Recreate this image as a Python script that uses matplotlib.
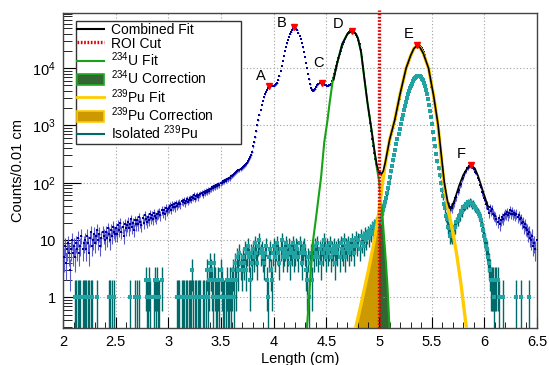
import numpy as np
import matplotlib
matplotlib.use("Agg")
import matplotlib.pyplot as plt
from matplotlib.lines import Line2D
from matplotlib.patches import Patch
from matplotlib.ticker import MultipleLocator, LogLocator, NullFormatter

plt.rcParams['font.family'] = ['Liberation Sans', 'DejaVu Sans']
plt.rcParams['mathtext.default'] = 'regular'

# histogram binning (cm)
bin_lo = 2.0
bin_w = 0.01

# all counts, 0.01 cm bins from 2.00 to 6.50
blue_counts = [
    5, 8, 4, 7, 9, 6, 3, 7, 10, 6,
    8, 5, 9, 7, 11, 6, 8, 12, 7, 9,
    10, 7, 12, 9, 6, 11, 14, 8, 10, 13,
    9, 12, 15, 10, 13, 8, 11, 14, 12, 10,
    14, 11, 16, 13, 10, 15, 12, 17, 14, 13,
    16, 13, 18, 15, 20, 14, 17, 12, 19, 16,
    18, 21, 16, 19, 23, 17, 20, 15, 22, 19,
    22, 19, 25, 21, 18, 24, 20, 27, 23, 21,
    25, 22, 28, 24, 27, 23, 30, 26, 24, 28,
    29, 31, 27, 33, 30, 34, 28, 36, 32, 35,
    36, 39, 34, 41, 38, 42, 37, 44, 40, 43,
    45, 42, 48, 46, 50, 44, 49, 52, 47, 51,
    54, 51, 57, 55, 60, 53, 58, 62, 56, 61,
    64, 67, 62, 70, 66, 72, 69, 75, 71, 77,
    79, 83, 80, 87, 84, 90, 88, 94, 92, 98,
    101, 106, 104, 112, 109, 117, 115, 122, 120, 129,
    133, 138, 142, 148, 153, 158, 164, 170, 176, 181,
    188, 195, 203, 212, 224, 238, 255, 280, 310, 350,
    430, 520, 640, 800, 1000, 1250, 1550, 1900, 2300, 2700,
    3100, 3500, 3900, 4200, 4500, 4750, 4900, 4950, 4950, 4900,
    4900, 5000, 5200, 5600, 6300, 7400, 9000, 11000, 13500, 16500,
    20000, 23500, 27000, 31000, 35000, 39000, 43000, 47000, 50000, 51500,
    51000, 49000, 46000, 42000, 37000, 32000, 27500, 23000, 19000, 15500,
    12500, 10000, 8000, 6400, 5200, 4500, 4100, 4000, 4100, 4400,
    4700, 5000, 5300, 5500, 5600, 5600, 5500, 5300, 5100, 5000,
    4900, 4900, 5000, 5100, 5400, 5900, 6700, 7800, 9200, 10800,
    12800, 15000, 17500, 20000, 23000, 26000, 29000, 32000, 35000, 38000,
    40500, 42500, 44000, 45000, 45200, 44500, 43000, 41000, 38500, 35500,
    31600, 26500, 21000, 15500, 11000, 7900, 5750, 4200, 3000, 2100,
    1550, 1120, 810, 590, 440, 330, 260, 210, 175, 155,
    150, 142, 140, 150, 170, 205, 250, 310, 380, 470,
    600, 700, 800, 920, 1080, 1300, 1580, 1950, 2450, 2950,
    3700, 4500, 5500, 6600, 7900, 9300, 10800, 12500, 14200, 16000,
    17500, 19200, 20800, 22200, 23500, 24400, 25000, 25100, 24700, 23900,
    22800, 21000, 19000, 16800, 14500, 12200, 10000, 8000, 6200, 4700,
    4200, 3300, 2500, 1900, 1450, 1100, 830, 590, 400, 270,
    185, 118, 88, 60, 52, 40, 39, 33, 38, 36,
    42, 44, 54, 56, 70, 75, 92, 95, 115, 122,
    136, 155, 160, 182, 180, 198, 202, 194, 192, 178,
    175, 155, 148, 122, 112, 90, 83, 68, 65, 55,
    50, 42, 41, 35, 30, 37, 32, 35, 29, 27,
    26, 23, 21, 24, 19, 22, 25, 23, 27, 29,
    28, 31, 27, 30, 33, 29, 32, 28, 30, 27,
    29, 25, 27, 23, 24, 20, 21, 17, 19, 16,
    15, 13, 14, 11, 10, 12, 8, 9, 7, 10,
]

# isolated 239Pu counts, same bins
pu_counts = [
    0, 0, 0, 0, 0, 0, 0, 0, 0, 0,
    0, 1, 1, 0, 1, 1, 1, 0, 1, 1,
    1, 1, 0, 1, 1, 0, 1, 1, 0, 0,
    0, 0, 1, 0, 0, 0, 0, 0, 0, 0,
    0, 0, 0, 1, 1, 0, 1, 0, 1, 0,
    0, 0, 0, 0, 0, 0, 0, 0, 0, 0,
    0, 0, 0, 1, 0, 0, 0, 0, 1, 0,
    1, 0, 1, 0, 0, 0, 0, 0, 2, 1,
    1, 2, 1, 0, 0, 0, 1, 2, 1, 2,
    1, 1, 0, 2, 0, 0, 0, 0, 0, 0,
    0, 0, 0, 0, 0, 0, 0, 0, 1, 1,
    1, 0, 1, 1, 1, 0, 1, 1, 0, 1,
    1, 1, 3, 1, 0, 1, 1, 0, 1, 1,
    1, 0, 1, 1, 0, 1, 3, 1, 2, 4,
    3, 2, 1, 4, 2, 1, 1, 2, 1, 3,
    2, 1, 1, 0, 1, 2, 1, 1, 2, 1,
    2, 3, 1, 4, 2, 5, 3, 6, 4, 3,
    5, 4, 7, 3, 6, 8, 5, 2, 6, 4,
    7, 5, 9, 6, 4, 8, 10, 6, 7, 5,
    4, 6, 8, 2, 1, 5, 7, 3, 2, 6,
    8, 5, 7, 9, 6, 4, 7, 10, 5, 6,
    7, 9, 5, 6, 8, 4, 7, 6, 9, 5,
    6, 8, 7, 5, 9, 6, 4, 7, 8, 6,
    3, 2, 5, 1, 4, 6, 2, 7, 5, 8,
    6, 9, 5, 7, 4, 8, 6, 10, 7, 5,
    8, 6, 7, 9, 5, 7, 6, 8, 4, 7,
    6, 8, 5, 9, 7, 6, 10, 5, 8, 7,
    9, 6, 8, 7, 10, 8, 6, 9, 11, 8,
    10, 7, 12, 9, 11, 8, 13, 10, 12, 14,
    11, 15, 13, 17, 14, 19, 16, 21, 18, 22,
    20, 24, 28, 33, 40, 46, 55, 66, 80, 100,
    125, 160, 200, 250, 310, 380, 470, 580, 710, 860,
    1050, 1280, 1550, 1850, 2200, 2600, 3000, 3500, 4000, 4500,
    4900, 5400, 5900, 6400, 6800, 7100, 7300, 7350, 7250, 7000,
    6600, 6100, 5500, 4900, 4200, 3500, 2900, 2300, 1800, 1400,
    1050, 780, 580, 430, 320, 240, 180, 135, 100, 75,
    58, 42, 36, 26, 23, 17, 16, 12, 13, 12,
    13, 16, 17, 21, 22, 26, 27, 32, 31, 37,
    38, 40, 43, 41, 46, 44, 47, 45, 42, 43,
    40, 37, 35, 31, 28, 26, 22, 18, 15, 12,
    10, 8, 7, 5, 4, 3, 2, 2, 2, 1,
    2, 2, 2, 1, 0, 0, 0, 1, 0, 0,
    0, 0, 0, 0, 0, 0, 0, 0, 0, 0,
    1, 0, 0, 0, 1, 0, 0, 0, 0, 0,
    0, 0, 1, 0, 0, 0, 0, 0, 0, 0,
]

# fit curves
comb_x = [4.57, 4.60, 4.65, 4.70, 4.743, 4.78, 4.80, 4.83, 4.86, 4.89, 4.93, 4.96,
          4.98, 5.00, 5.02, 5.04, 5.06, 5.10, 5.15, 5.20, 5.257, 5.30, 5.33, 5.362,
          5.39, 5.42, 5.47, 5.52, 5.56, 5.59, 5.62, 5.65, 5.67, 5.69, 5.72, 5.76,
          5.80, 5.84, 5.876, 5.91, 5.94, 5.97, 6.00, 6.035]
comb_y = [6300, 11750, 26300, 39800, 44700, 39800, 33100, 19000, 6800, 2520, 810, 330,
          200, 150, 140, 160, 230, 560, 1260, 3550, 10000, 16600, 21900, 25100,
          22900, 18200, 10000, 3160, 1050, 320, 100, 48, 36, 37, 52, 89,
          138, 182, 200, 178, 132, 89, 60, 38]

u_fit_x = [4.315, 4.34, 4.37, 4.40, 4.45, 4.48, 4.51, 4.53, 4.56, 4.60, 4.65, 4.70,
           4.743, 4.78, 4.80, 4.83, 4.86, 4.89, 4.93, 4.96, 4.98, 5.00, 5.03, 5.06,
           5.08, 5.10]
u_fit_y = [0.29, 1.3, 8.7, 23, 126, 510, 1200, 2400, 6000, 11750, 26300, 39800,
           44700, 39800, 33100, 19000, 6760, 2510, 794, 316, 178, 110, 30, 5.6,
           1.6, 0.28]

pu_fit_x = [4.78, 4.84, 4.90, 4.94, 4.97, 5.00, 5.03, 5.06, 5.10, 5.15, 5.20, 5.257,
            5.30, 5.33, 5.362, 5.39, 5.42, 5.47, 5.52, 5.56, 5.59, 5.62, 5.66, 5.70,
            5.74, 5.78, 5.82, 5.835]
pu_fit_y = [0.3, 0.93, 3.0, 7.0, 14, 32, 90, 220, 560, 1260, 3550, 10000,
            16600, 21900, 25100, 22900, 18200, 10000, 3160, 1000, 282, 89, 32, 14,
            5.2, 1.6, 0.4, 0.25]

roi_cut = 5.0

peak_names = ['A', 'B', 'C', 'D', 'E', 'F']
peak_x = [3.96, 4.195, 4.455, 4.745, 5.362, 5.875]
peak_y = [4900, 51500, 5600, 45200, 25100, 202]
label_dx = [-6, -9, -2, -10, -6.5, -7]   # points
label_dy = [7, 3, 14, 5, 8, 8]

x_ticks = [2, 2.5, 3, 3.5, 4, 4.5, 5, 5.5, 6, 6.5]
x_tick_labels = ['2', '2.5', '3', '3.5', '4', '4.5', '5', '5.5', '6', '6.5']
y_ticks = [1, 10, 100, 1000, 10000]
y_tick_labels = ['1', '10', '$10^{2}$', '$10^{3}$', '$10^{4}$']

fig = plt.figure(figsize=(5.49, 3.65), dpi=100)
ax = fig.add_axes([0.1148, 0.1022, 0.8634, 0.8622])
ax.set_yscale('log')
ax.set_xlim(2, 6.5)
ax.set_ylim(0.295, 9.2e4)

centers = bin_lo + bin_w * (np.arange(len(blue_counts)) + 0.5)
b = np.array(blue_counts, dtype=float)
p = np.array(pu_counts, dtype=float)

# correction fills (either side of the ROI cut)
pux = np.array(pu_fit_x); puy = np.array(pu_fit_y)
ux = np.array(u_fit_x); uy = np.array(u_fit_y)
m = pux <= roi_cut
ax.fill_between(pux[m], 0.01, puy[m], facecolor='#cc9900', edgecolor='none', zorder=1)
m = ux >= roi_cut
ax.fill_between(ux[m], 0.01, uy[m], facecolor='#336633', edgecolor='none', zorder=1)

ax.errorbar(centers, np.where(p > 0, p, np.nan), yerr=np.sqrt(p), xerr=bin_w / 2,
            fmt='s', ms=3.0, mew=0, color='#22a3a3', ecolor='#006a6a',
            elinewidth=1.0, capsize=1.2, zorder=2)
ax.errorbar(centers, np.where(b > 0, b, np.nan), yerr=np.sqrt(b), xerr=bin_w / 2,
            fmt='s', ms=1.9, mew=0, color='#000099', ecolor='#5a5acc',
            elinewidth=0.8, capsize=1.0, zorder=3)

ax.plot(u_fit_x, u_fit_y, color='#16a316', lw=1.5, zorder=4)
ax.plot(pu_fit_x, pu_fit_y, color='#ffcc00', lw=2.4, zorder=4)
ax.plot(comb_x, comb_y, color='black', lw=1.2, zorder=5)

ax.axvline(roi_cut, ymax=1.01, color='#dd0000', lw=2.4, ls=(0, (0.5, 0.5)),
           zorder=6, clip_on=False)

ax.plot(peak_x, peak_y, 'v', color='#ff0000', ms=5, zorder=7)
for name, px, py, dx, dy in zip(peak_names, peak_x, peak_y, label_dx, label_dy):
    ax.annotate(name, (px, py), xytext=(dx, dy), textcoords='offset points',
                ha='center', va='center', fontsize=10.5, zorder=8)

ax.set_xticks(x_ticks)
ax.set_xticklabels(x_tick_labels)
ax.xaxis.set_minor_locator(MultipleLocator(0.1))
ax.set_yticks(y_ticks)
ax.set_yticklabels(y_tick_labels)
ax.yaxis.set_minor_locator(LogLocator(base=10, subs=np.arange(2, 10)))
ax.yaxis.set_minor_formatter(NullFormatter())
ax.tick_params(which='both', direction='in', top=False, right=False, labelsize=10.5)
ax.tick_params(axis='x', which='major', length=8, pad=5)
ax.tick_params(axis='x', which='minor', length=4)
ax.tick_params(axis='y', which='major', length=13, pad=5)
ax.tick_params(axis='y', which='minor', length=6.5)
ax.grid(True, which='major', ls=(0, (1, 2)), color='#a0a0a0', lw=0.8)
for s in ax.spines.values():
    s.set_color('#444444')
    s.set_linewidth(1.0)

ax.set_xlabel('Length (cm)', fontsize=10.5)
ax.xaxis.set_label_coords(0.5, -0.077)
ax.set_ylabel('Counts/0.01 cm', fontsize=10.5)
ax.yaxis.set_label_coords(-0.080, 0.5)

handles = [
    Line2D([], [], color='black', lw=1.5),
    Line2D([], [], color='#dd0000', lw=2.4, ls=(0, (0.5, 0.5))),
    Line2D([], [], color='#16a316', lw=1.5),
    Patch(facecolor='#336633', edgecolor='#22aa22', lw=1.2),
    Line2D([], [], color='#ffcc00', lw=2),
    Patch(facecolor='#cc9900', edgecolor='#ffcc00', lw=1.2),
    Line2D([], [], color='#006a6a', lw=1.5),
]
labels = ['Combined Fit', 'ROI Cut', '$^{234}$U Fit', '$^{234}$U Correction',
          '$^{239}$Pu Fit', '$^{239}$Pu Correction', 'Isolated $^{239}$Pu']
leg = ax.legend(handles, labels, loc='upper left',
                bbox_to_anchor=(0.027, 0.588, 0.348, 0.385), mode='expand',
                borderaxespad=0, fontsize=10, handlelength=1.95, handleheight=0.85,
                handletextpad=0.5, labelspacing=-0.02, borderpad=0.1,
                fancybox=False, framealpha=1, edgecolor='#333333')
leg.get_frame().set_linewidth(1.0)
leg.set_zorder(10)

fig.savefig('out.png', dpi=100)
